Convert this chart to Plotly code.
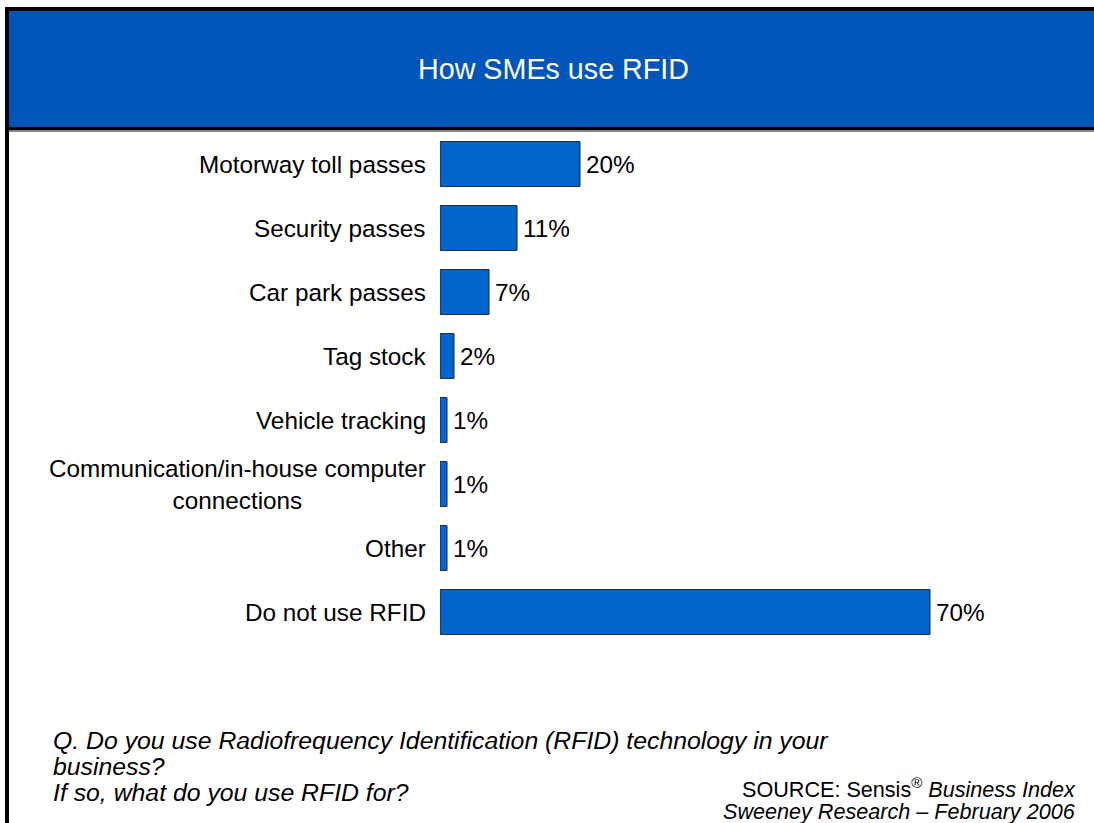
import plotly.graph_objects as go

categories = [
    "Motorway toll passes",
    "Security passes",
    "Car park passes",
    "Tag stock",
    "Vehicle tracking",
    "Communication/in-house computer<br>connections",
    "Other",
    "Do not use RFID",
]
values = [20, 11, 7, 2, 1, 1, 1, 70]
value_labels = ["20%", "11%", "7%", "2%", "1%", "1%", "1%", "70%"]

title_text = "How SMEs use RFID"
question_lines = [
    "Q. Do you use Radiofrequency Identification (RFID) technology in your",
    "business?",
    "If so, what do you use RFID for?",
]
source_lines = [
    "SOURCE: Sensis<sup>®</sup> <i>Business Index</i>",
    "<i>Sweeney Research – February 2006</i>",
]

W, H = 1094, 823
L, R, T, B = 440, 24, 132, 179
PW = W - L - R
PH = H - T - B
FONT = "Liberation Sans, Arial, sans-serif"


def px(x):
    return (x - L) / PW


def py(y):
    return (H - B - y) / PH


cat_keys = [c.replace("<br>", " ") for c in categories]

fig = go.Figure()
fig.add_trace(go.Bar(
    x=values,
    y=cat_keys,
    orientation="h",
    width=0.7,
    marker=dict(color="#0066CC", line=dict(color="#1a2340", width=1)),
    hoverinfo="skip",
))

annotations = []
for key, label in zip(cat_keys, categories):
    annotations.append(dict(
        x=0, xref="paper", y=key, yref="y", text=label, showarrow=False,
        xanchor="right", yanchor="middle", xshift=-12, align="center",
        font=dict(family=FONT, size=24.3, color="black"),
    ))
for key, v, lab in zip(cat_keys, values, value_labels):
    annotations.append(dict(
        x=v, xref="x", y=key, yref="y", text=lab, showarrow=False,
        xanchor="left", yanchor="middle", xshift=4,
        font=dict(family=FONT, size=24.3, color="black"),
    ))

annotations.append(dict(
    x=px(553), y=py(69), xref="paper", yref="paper", text=title_text,
    showarrow=False, xanchor="center", yanchor="middle",
    font=dict(family=FONT, size=28.7, color="white"),
))

q_y = [740, 766, 792]
for line, yy in zip(question_lines, q_y):
    annotations.append(dict(
        x=px(51), y=py(yy), xref="paper", yref="paper", text="<i>" + line + "</i>",
        showarrow=False, xanchor="left", yanchor="middle",
        font=dict(family=FONT, size=24.8, color="black"),
    ))

s_y = [788, 811]
for line, yy in zip(source_lines, s_y):
    annotations.append(dict(
        x=px(1078), y=py(yy), xref="paper", yref="paper", text=line,
        showarrow=False, xanchor="right", yanchor="middle",
        font=dict(family=FONT, size=21.6, color="black"),
    ))

shapes = [
    # blue header band
    dict(type="rect", xref="paper", yref="paper",
         x0=px(9), x1=px(1094), y0=py(11), y1=py(127),
         fillcolor="#0055BB", line=dict(width=0), layer="below"),
    # top border
    dict(type="rect", xref="paper", yref="paper",
         x0=px(5), x1=px(1094), y0=py(7), y1=py(11),
         fillcolor="black", line=dict(width=0), layer="below"),
    # bottom border of header
    dict(type="rect", xref="paper", yref="paper",
         x0=px(5), x1=px(1094), y0=py(127), y1=py(130.5),
         fillcolor="black", line=dict(width=0), layer="below"),
    dict(type="rect", xref="paper", yref="paper",
         x0=px(9), x1=px(1094), y0=py(130.5), y1=py(132),
         fillcolor="#888888", line=dict(width=0), layer="below"),
    # left border down the page
    dict(type="rect", xref="paper", yref="paper",
         x0=px(5), x1=px(9), y0=py(7), y1=py(823),
         fillcolor="black", line=dict(width=0), layer="below"),
]

fig.update_layout(
    width=W, height=H,
    margin=dict(l=L, r=R, t=T, b=B, autoexpand=False),
    paper_bgcolor="white", plot_bgcolor="white",
    showlegend=False,
    xaxis=dict(range=[0, 90], visible=False, fixedrange=True),
    yaxis=dict(type="category", categoryorder="array", categoryarray=cat_keys,
               autorange="reversed", showticklabels=False, showgrid=False,
               zeroline=False, showline=False, ticks=""),
    annotations=annotations,
    shapes=shapes,
    bargap=0.3,
)

fig.write_html("out.html")
